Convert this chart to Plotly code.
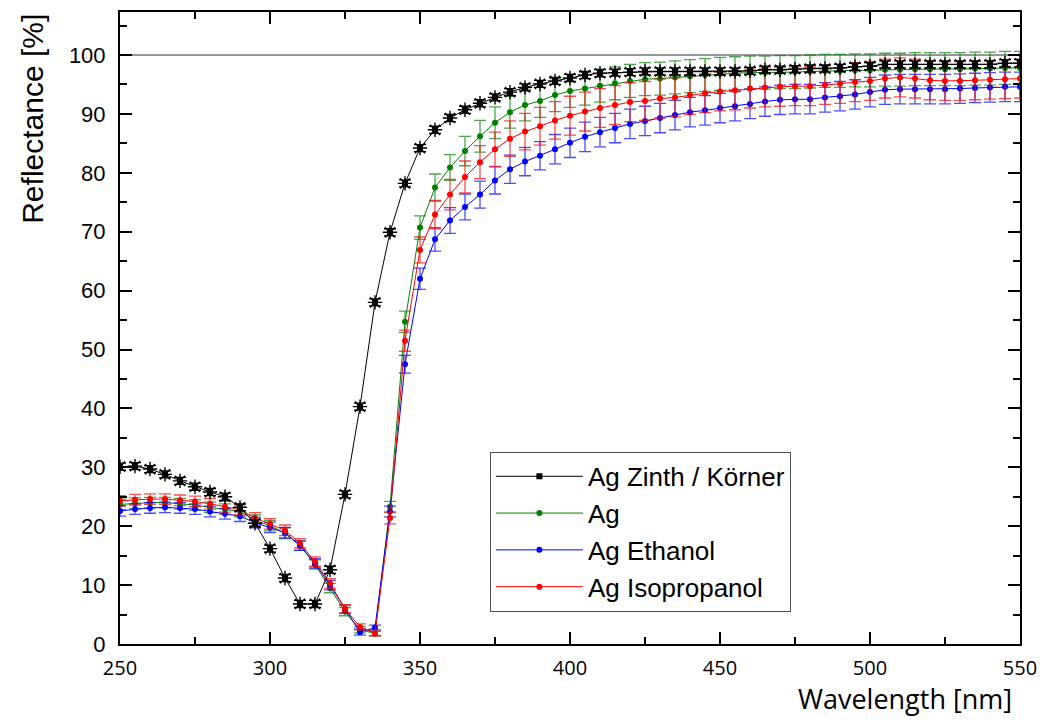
import plotly.graph_objects as go

wavelength = list(range(250, 551, 5))

r_zinth = [30.1, 30.2, 29.7, 28.8, 27.7, 26.7, 25.8, 25.0, 23.2, 20.5,
           16.2, 11.2, 6.8, 6.8, 12.6, 25.4, 40.3, 58.0, 69.9, 78.2,
           84.2, 87.3, 89.3, 90.7, 91.8, 92.8, 93.7, 94.5, 95.1, 95.6,
           96.1, 96.6, 96.9, 97.0, 97.1, 97.2, 97.2, 97.2, 97.2, 97.2,
           97.2, 97.2, 97.3, 97.5, 97.5, 97.6, 97.7, 97.7, 97.8, 98.0,
           98.1, 98.4, 98.4, 98.4, 98.4, 98.4, 98.4, 98.4, 98.4, 98.6, 98.6]
err_zinth = [0.6] * 61

r_ag = [23.7, 23.9, 24.0, 24.0, 23.8, 23.6, 23.2, 22.9, 22.5, 21.0,
        20.1, 18.8, 16.7, 13.5, 9.5, 5.5, 2.4, 1.8, 23.3, 54.7,
        70.7, 77.5, 80.9, 83.7, 86.2, 88.5, 90.3, 91.5, 92.2, 93.2,
        93.9, 94.3, 94.8, 95.2, 95.6, 95.9, 96.0, 96.2, 96.4, 96.6,
        96.8, 96.9, 97.0, 97.0, 97.1, 97.1, 97.2, 97.3, 97.3, 97.4,
        97.4, 97.5, 97.5, 97.6, 97.6, 97.6, 97.6, 97.7, 97.7, 97.8, 97.8]
err_ag = [0.9, 0.9, 0.9, 0.9, 0.9, 0.9, 0.9, 0.9, 0.9, 0.9,
          0.9, 0.9, 0.8, 0.8, 0.8, 0.7, 0.5, 0.4, 0.9, 1.8,
          2.0, 2.3, 2.2, 2.5, 2.7, 2.7, 2.7, 2.7, 2.8, 2.8,
          2.8, 2.8, 2.8, 2.8, 2.8, 2.8, 2.8, 2.8, 2.8, 2.8,
          2.8, 2.8, 2.8, 2.8, 2.8, 2.8, 2.8, 2.8, 2.8, 2.8,
          2.8, 2.8, 2.8, 2.8, 2.8, 2.8, 2.8, 2.8, 2.8, 2.8, 2.8]

r_ethanol = [22.6, 22.9, 23.1, 23.2, 23.1, 22.9, 22.5, 22.1, 21.7, 20.6,
             19.8, 18.9, 16.7, 13.7, 10.0, 5.9, 2.0, 2.8, 22.5, 47.5,
             62.0, 68.7, 71.9, 74.2, 76.3, 78.7, 80.6, 81.9, 82.9, 84.0,
             85.1, 86.1, 86.9, 87.6, 88.3, 88.8, 89.3, 89.8, 90.3, 90.6,
             91.0, 91.3, 91.7, 92.1, 92.4, 92.5, 92.5, 92.8, 93.0, 93.3,
             93.7, 94.1, 94.2, 94.2, 94.2, 94.2, 94.3, 94.4, 94.5, 94.6, 94.6]
err_ethanol = [0.9, 0.9, 0.9, 0.9, 0.9, 0.9, 0.9, 0.9, 0.9, 0.9,
               0.9, 0.9, 0.8, 0.8, 0.8, 0.7, 0.5, 0.4, 0.9, 1.5,
               1.8, 2.0, 2.2, 2.2, 2.3, 2.3, 2.4, 2.4, 2.4, 2.5,
               2.5, 2.5, 2.5, 2.5, 2.5, 2.5, 2.5, 2.5, 2.5, 2.5,
               2.5, 2.5, 2.5, 2.5, 2.5, 2.5, 2.5, 2.5, 2.5, 2.5,
               2.5, 2.5, 2.5, 2.5, 2.5, 2.5, 2.5, 2.5, 2.5, 2.5, 2.5]

r_isopropanol = [24.3, 24.5, 24.6, 24.6, 24.4, 24.2, 23.8, 23.3, 22.8, 21.4,
                 20.4, 19.3, 17.1, 14.0, 10.3, 6.0, 2.9, 1.8, 21.4, 51.5,
                 66.9, 72.9, 76.3, 79.3, 81.8, 84.0, 85.8, 87.0, 87.9, 88.9,
                 89.7, 90.4, 91.0, 91.5, 92.0, 92.2, 92.6, 92.8, 93.2, 93.5,
                 93.8, 94.0, 94.3, 94.5, 94.6, 94.7, 94.7, 94.9, 95.1, 95.4,
                 95.6, 96.0, 96.2, 96.0, 95.7, 95.6, 95.6, 95.7, 95.8, 95.9, 96.0]
err_isopropanol = [0.9, 0.9, 0.9, 0.9, 0.9, 0.9, 0.9, 0.9, 0.9, 0.9,
                   0.9, 0.9, 0.8, 0.8, 0.8, 0.7, 0.5, 0.4, 1.0, 1.8,
                   2.2, 2.4, 2.6, 2.7, 2.8, 2.9, 3.0, 3.1, 3.2, 3.2,
                   3.3, 3.3, 3.3, 3.3, 3.3, 3.3, 3.3, 3.3, 3.3, 3.3,
                   3.3, 3.3, 3.3, 3.3, 3.3, 3.3, 3.3, 3.3, 3.3, 3.3,
                   3.3, 3.3, 3.3, 3.3, 3.3, 3.3, 3.3, 3.3, 3.3, 3.3, 3.3]

series = [
    ("Ag", r_ag, err_ag, "rgb(0,128,0)", "rgba(0,128,0,0.7)", 2),
    ("Ag Ethanol", r_ethanol, err_ethanol, "rgb(0,0,255)", "rgba(0,0,255,0.7)", 3),
    ("Ag Isopropanol", r_isopropanol, err_isopropanol, "rgb(255,0,0)", "rgba(255,0,0,0.7)", 4),
]

fig = go.Figure()

for name, vals, errs, col, ecol, rank in series:
    fig.add_trace(go.Scatter(
        x=wavelength, y=vals, name=name, mode="lines+markers",
        line=dict(color=col, width=1),
        marker=dict(color=col, size=6, symbol="circle"),
        error_y=dict(type="data", array=errs, visible=True, color=ecol,
                     thickness=1.3, width=6),
        legendrank=rank,
    ))

# Zinth / Körner reference data (drawn on top)
fig.add_trace(go.Scatter(
    x=wavelength, y=r_zinth, mode="markers", showlegend=False,
    marker=dict(color="black", size=12, symbol="asterisk-open",
                line=dict(color="rgba(0,0,0,0.7)", width=1.4)),
    hoverinfo="skip",
))
fig.add_trace(go.Scatter(
    x=wavelength, y=r_zinth, name="Ag Zinth / Körner", mode="lines+markers",
    line=dict(color="black", width=1),
    marker=dict(color="black", size=6, symbol="square"),
    error_y=dict(type="data", array=err_zinth, visible=True, color="black",
                 thickness=1.3, width=6),
    legendrank=1,
))

fig.add_hline(y=100, line=dict(color="rgb(150,150,150)", width=2), layer="below")

axis_common = dict(
    showline=True, linecolor="black", linewidth=2, mirror="ticks",
    ticks="inside", ticklen=12, tickwidth=2, tickcolor="black",
    showgrid=False, zeroline=False, automargin=False,
)

fig.update_xaxes(
    range=[250, 550], tickvals=[250, 300, 350, 400, 450, 500, 550],
    minor=dict(dtick=25, tick0=250, ticks="inside", ticklen=7, tickwidth=2, tickcolor="black"),
    tickfont=dict(family="Open Sans", size=20, color="black"),
    ticklabelstandoff=5,
    **axis_common,
)
fig.update_yaxes(
    range=[0, 107.3], tickvals=[0, 10, 20, 30, 40, 50, 60, 70, 80, 90, 100],
    minor=dict(dtick=5, tick0=0, ticks="inside", ticklen=7, tickwidth=2, tickcolor="black"),
    tickfont=dict(family="Liberation Sans, Arial", size=22, color="black"),
    ticklabelstandoff=8,
    **axis_common,
)

fig.add_annotation(
    text="Reflectance [%]", xref="paper", yref="paper", x=-0.098, y=1.0,
    xanchor="center", yanchor="top", textangle=-90, showarrow=False,
    font=dict(family="Liberation Sans, Arial", size=30, color="black"),
)
fig.add_annotation(
    text="Wavelength [nm]", xref="paper", yref="paper", x=0.993, y=-0.118,
    xanchor="right", yanchor="bottom", showarrow=False,
    font=dict(family="Open Sans", size=27, color="black"),
)

fig.update_layout(
    width=1042, height=720,
    margin=dict(l=120, r=22, t=12, b=76),
    paper_bgcolor="white", plot_bgcolor="white",
    legend=dict(
        x=0.411, y=0.304, xanchor="left", yanchor="top",
        bgcolor="white", bordercolor="rgb(80,80,80)", borderwidth=1,
        font=dict(family="Liberation Sans, Arial", size=26, color="black"),
        itemwidth=87,
    ),
    showlegend=True,
)

fig.write_html("out.html", config={"displayModeBar": False},
               post_script="document.body.style.margin='0';")
